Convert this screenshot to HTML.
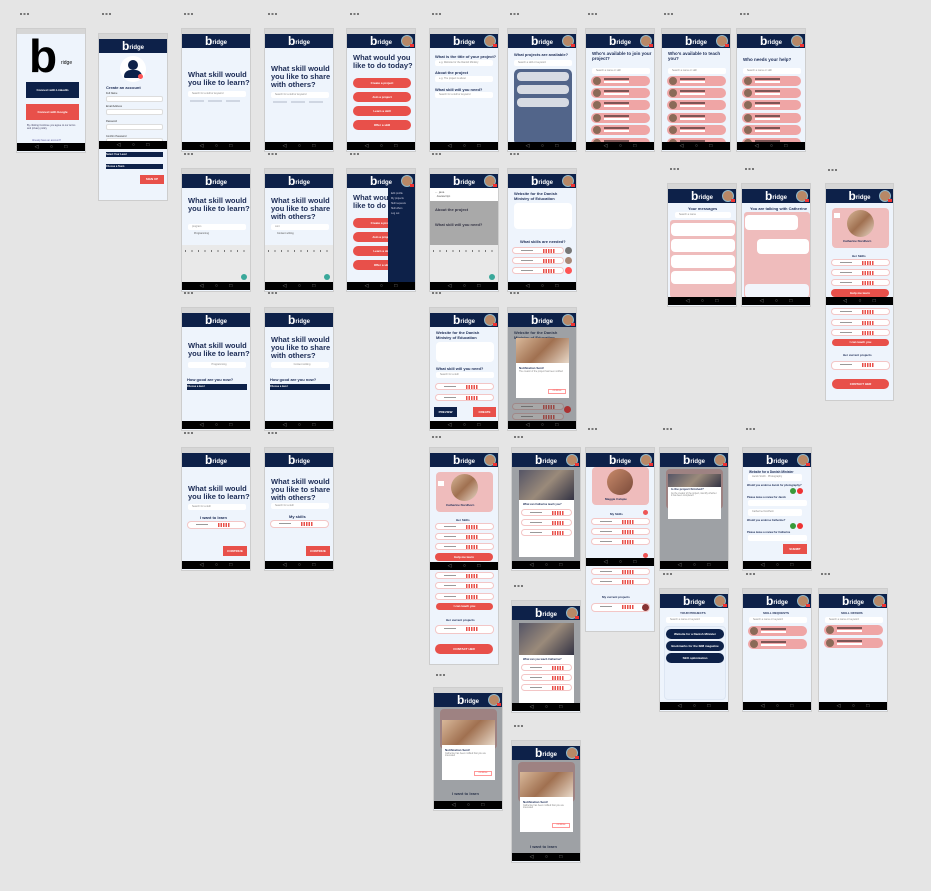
<!DOCTYPE html>
<html><head><meta charset="utf-8">
<style>
*{box-sizing:border-box;margin:0;padding:0}
body{width:931px;height:891px;background:#e5e5e5;position:relative;overflow:hidden;font-family:"Liberation Sans",sans-serif}
.f{position:absolute;background:#eef4fc;border:1px solid #cdcdcd;overflow:hidden;width:70px;height:124px}
.sb{height:5px;background:#d6d6d6}
.hd{height:14px;background:#0d2149;position:relative;color:#fff;font-weight:bold;font-size:6px;text-align:center;line-height:14px}
.hd b{font-size:12px;vertical-align:-1px}
.av{position:absolute;right:2px;top:1px;width:12px;height:12px;border-radius:50%;background:#b88866;border:1px solid #8fb7c9}
.av:after{content:"";position:absolute;right:-2px;bottom:-1px;width:4px;height:3px;background:#e33}
.nv{position:absolute;left:0;right:0;bottom:1px;height:8px;background:#000;color:#888;font-size:5px;line-height:8px;text-align:center;word-spacing:10px}
.lb{position:absolute;width:9px;height:2px;background:repeating-linear-gradient(90deg,#777 0 2px,transparent 2px 3.5px)}
.a{position:absolute}
.q{color:#1b2b55;font-weight:bold;font-size:7.5px;line-height:8px}
.s{color:#1b2b55;font-weight:bold;font-size:4px}
.in{position:absolute;background:#fff;height:6px;border-radius:2px;font-size:2.5px;color:#888;line-height:6px;padding-left:4px}
.rb{position:absolute;background:#e8504a;color:#fff;font-size:3px;font-weight:bold;text-align:center;border-radius:5px;height:8px;line-height:8px}
.nb{position:absolute;background:#0d2149;color:#fff;font-size:3px;font-weight:bold;text-align:center;height:7px;line-height:7px}
.pk{position:absolute;left:5px;width:59px;height:10px;background:#efa5a5;border-radius:5px}
.pk:before{content:"";position:absolute;left:2px;top:1px;width:8px;height:8px;border-radius:50%;background:#8a6a58}
.pk:after{content:"";position:absolute;left:13px;top:2px;width:25px;height:2px;background:#7d5555;box-shadow:0 3px 0 #fff}
.sk{position:absolute;left:5px;width:59px;height:7px;background:#fff;border:1px solid #f3c6c6;border-radius:4px}
.sk:after{content:"";position:absolute;left:30px;top:1px;width:12px;height:4px;background:repeating-linear-gradient(90deg,#e8504a 0 1.5px,#fff 1.5px 2.5px)}
.sk:before{content:"";position:absolute;left:8px;top:2px;width:12px;height:1px;background:#999}
.ov{position:absolute;left:0;right:0;top:19px;bottom:9px;background:rgba(60,60,60,.45)}
.md{position:absolute;background:#fff}
.ph{position:absolute;background:linear-gradient(135deg,#d8b89a,#a07050 50%,#e8d8c8)}
.dk{position:absolute;background:linear-gradient(135deg,#556,#9a8a7a 50%,#334)}
.kb{position:absolute;left:0;right:0;bottom:9px;height:37px;background:#e9e9e9;background-image:repeating-linear-gradient(90deg,transparent 0 3px,#777 3px 4px,transparent 4px 6.5px);background-size:100% 2px;background-repeat:repeat-x;background-position:0 5px}
</style></head><body>

<!-- labels -->
<div class="lb" style="left:20px;top:13px"></div><div class="lb" style="left:102px;top:13px"></div><div class="lb" style="left:184px;top:13px"></div><div class="lb" style="left:268px;top:13px"></div><div class="lb" style="left:350px;top:13px"></div><div class="lb" style="left:432px;top:13px"></div><div class="lb" style="left:510px;top:13px"></div><div class="lb" style="left:588px;top:13px"></div><div class="lb" style="left:664px;top:13px"></div><div class="lb" style="left:740px;top:13px"></div>
<div class="lb" style="left:184px;top:153px"></div><div class="lb" style="left:268px;top:153px"></div><div class="lb" style="left:350px;top:153px"></div><div class="lb" style="left:432px;top:153px"></div><div class="lb" style="left:510px;top:153px"></div>
<div class="lb" style="left:670px;top:168px"></div><div class="lb" style="left:745px;top:168px"></div><div class="lb" style="left:828px;top:169px"></div>
<div class="lb" style="left:184px;top:292px"></div><div class="lb" style="left:268px;top:292px"></div><div class="lb" style="left:432px;top:292px"></div><div class="lb" style="left:510px;top:292px"></div>
<div class="lb" style="left:184px;top:432px"></div><div class="lb" style="left:268px;top:432px"></div><div class="lb" style="left:432px;top:436px"></div><div class="lb" style="left:514px;top:436px"></div><div class="lb" style="left:588px;top:428px"></div><div class="lb" style="left:663px;top:428px"></div><div class="lb" style="left:746px;top:428px"></div>
<div class="lb" style="left:663px;top:573px"></div><div class="lb" style="left:746px;top:573px"></div><div class="lb" style="left:821px;top:573px"></div><div class="lb" style="left:514px;top:585px"></div><div class="lb" style="left:436px;top:674px"></div><div class="lb" style="left:514px;top:725px"></div>

<!-- A1 login -->
<div class="f" style="left:16px;top:28px;height:125px">
 <div class="sb"></div>
 <div class="a" style="left:12px;top:0px;font-size:46px;font-weight:bold;color:#000">b</div>
 <div class="a" style="left:44px;top:31px;font-size:5px;color:#000">ridge</div>
 <div class="nb" style="left:9px;top:53px;width:53px;height:16px;line-height:16px">Connect with LinkedIn</div>
 <div class="a" style="left:9px;top:75px;width:53px;height:16px;background:#e8504a;color:#fff;font-size:3px;text-align:center;line-height:16px;font-weight:bold">Connect with Google</div>
 <div class="a" style="left:10px;top:95px;font-size:2.5px;color:#446;width:50px">By clicking Continue you agree to our terms and privacy policy</div>
 <div class="a" style="left:15px;top:110px;font-size:2.5px;color:#66a">Already have an account?</div>
 <div class="nv">◁ ○ □</div>
</div>

<!-- A2 create -->
<div class="f" style="left:98px;top:33px;height:168px">
 <div class="sb"></div><div class="hd"><b>b</b>ridge</div>
 <div class="a" style="left:21px;top:22px;width:26px;height:26px;border-radius:50%;background:#fff"></div>
 <div class="a" style="left:29px;top:26px;width:10px;height:10px;border-radius:50%;background:#0d2149"></div>
 <div class="a" style="left:25px;top:36px;width:18px;height:8px;border-radius:9px 9px 2px 2px;background:#0d2149"></div>
 <div class="a" style="left:39px;top:40px;width:5px;height:5px;border-radius:50%;background:#f55"></div>
 <div class="a s" style="left:7px;top:51px">Create an account</div>
 <div class="a" style="left:7px;top:58px;font-size:2.5px;color:#333">Full Name</div><div class="in" style="left:7px;top:62px;width:57px;border:1px solid #ddd"></div>
 <div class="a" style="left:7px;top:71px;font-size:2.5px;color:#333">Email Address</div><div class="in" style="left:7px;top:75px;width:57px;border:1px solid #ddd"></div>
 <div class="a" style="left:7px;top:86px;font-size:2.5px;color:#333">Password</div><div class="in" style="left:7px;top:90px;width:57px;border:1px solid #ddd"></div>
 <div class="a" style="left:7px;top:101px;font-size:2.5px;color:#333">Confirm Password</div><div class="in" style="left:7px;top:104px;width:57px;border:1px solid #ddd"></div>
 <div class="nv" style="bottom:auto;top:107px">◁ ○ □</div>
 <div class="nb" style="left:7px;top:118px;width:57px;height:5px;line-height:5px;text-align:left;font-size:2.5px">Select Your Level</div>
 <div class="nb" style="left:7px;top:130px;width:57px;height:5px;line-height:5px;text-align:left;font-size:2.5px">Choose a Team</div>
 <div class="rb" style="left:41px;top:141px;width:24px;height:9px;border-radius:0">SIGN UP</div>
</div>

<!-- A3 -->
<div class="f" style="left:181px;top:28px"><div class="sb"></div><div class="hd"><b>b</b>ridge</div>
 <div class="a q" style="left:6px;top:42px">What skill would you like to learn?</div>
 <div class="in" style="left:6px;top:62px;width:58px">Search for a skill or keyword</div>
 <div class="a" style="left:8px;top:71px;width:54px;height:2px;background:repeating-linear-gradient(90deg,#cfd6e2 0 14px,transparent 14px 18px)"></div>
 <div class="nv">◁ ○ □</div></div>
<!-- A4 -->
<div class="f" style="left:264px;top:28px"><div class="sb"></div><div class="hd"><b>b</b>ridge</div>
 <div class="a q" style="left:6px;top:36px">What skill would you like to share with others?</div>
 <div class="in" style="left:6px;top:63px;width:58px">Search for a skill or keyword</div>
 <div class="a" style="left:8px;top:72px;width:54px;height:2px;background:repeating-linear-gradient(90deg,#cfd6e2 0 14px,transparent 14px 18px)"></div>
 <div class="nv">◁ ○ □</div></div>
<!-- A5 -->
<div class="f" style="left:346px;top:28px"><div class="sb"></div><div class="hd"><b>b</b>ridge<span class="av"></span></div>
 <div class="a q" style="left:6px;top:25px">What would you like to do today?</div>
 <div class="rb" style="left:6px;top:49px;width:58px;height:10px;line-height:10px">Create a project</div>
 <div class="rb" style="left:6px;top:63px;width:58px;height:10px;line-height:10px">Join a project</div>
 <div class="rb" style="left:6px;top:77px;width:58px;height:10px;line-height:10px">Learn a skill</div>
 <div class="rb" style="left:6px;top:91px;width:58px;height:10px;line-height:10px">Offer a skill</div>
 <div class="nv">◁ ○ □</div></div>
<!-- A6 -->
<div class="f" style="left:429px;top:28px"><div class="sb"></div><div class="hd"><b>b</b>ridge<span class="av"></span></div>
 <div class="a s" style="left:5px;top:25px">What is the title of your project?</div><div class="in" style="left:5px;top:31px;width:58px">e.g. Website for the Danish Ministry</div>
 <div class="a s" style="left:5px;top:41px">About the project</div><div class="in" style="left:5px;top:47px;width:58px">e.g. The project is about</div>
 <div class="a s" style="left:5px;top:58px">What skill will you need?</div><div class="in" style="left:5px;top:63px;width:58px">Search for a skill or keyword</div>
 <div class="nv">◁ ○ □</div></div>
<!-- A7 -->
<div class="f" style="left:507px;top:28px"><div class="sb"></div><div class="hd"><b>b</b>ridge<span class="av"></span></div>
 <div class="a s" style="left:6px;top:23px">What projects are available?</div>
 <div class="in" style="left:6px;top:31px;width:58px">Search a skill or keyword</div>
 <div class="a" style="left:6px;top:40px;width:58px;height:76px;background:#52658a;border-radius:5px"></div>
 <div class="a" style="left:9px;top:43px;width:52px;height:9px;background:#d7dbe3;border-radius:4px"></div>
 <div class="a" style="left:9px;top:56px;width:52px;height:9px;background:#d7dbe3;border-radius:4px"></div>
 <div class="a" style="left:9px;top:69px;width:52px;height:9px;background:#d7dbe3;border-radius:4px"></div>
 <div class="nv">◁ ○ □</div></div>
<!-- A8 A9 A10 lists -->
<div class="f" style="left:585px;top:28px"><div class="sb"></div><div class="hd"><b>b</b>ridge<span class="av"></span></div>
 <div class="a s" style="left:6px;top:22px;font-size:4.5px;width:62px">Who's available to join your project?</div>
 <div class="in" style="left:6px;top:39px;width:58px">Search a name or skill</div>
 <div class="pk" style="top:47px"></div><div class="pk" style="top:59px"></div><div class="pk" style="top:71px"></div><div class="pk" style="top:84px"></div><div class="pk" style="top:96px"></div><div class="pk" style="top:109px"></div>
 <div class="nv">◁ ○ □</div></div>
<div class="f" style="left:661px;top:28px"><div class="sb"></div><div class="hd"><b>b</b>ridge<span class="av"></span></div>
 <div class="a s" style="left:6px;top:22px;font-size:4.5px;width:62px">Who's available to teach you?</div>
 <div class="in" style="left:6px;top:39px;width:58px">Search a name or skill</div>
 <div class="pk" style="top:47px"></div><div class="pk" style="top:59px"></div><div class="pk" style="top:71px"></div><div class="pk" style="top:84px"></div><div class="pk" style="top:96px"></div><div class="pk" style="top:109px"></div>
 <div class="nv">◁ ○ □</div></div>
<div class="f" style="left:736px;top:28px"><div class="sb"></div><div class="hd"><b>b</b>ridge<span class="av"></span></div>
 <div class="a s" style="left:6px;top:28px;font-size:4.5px;width:62px">Who needs your help?</div>
 <div class="in" style="left:6px;top:39px;width:58px">Search a name or skill</div>
 <div class="pk" style="top:47px"></div><div class="pk" style="top:59px"></div><div class="pk" style="top:71px"></div><div class="pk" style="top:84px"></div><div class="pk" style="top:96px"></div><div class="pk" style="top:109px"></div>
 <div class="nv">◁ ○ □</div></div>

<!-- Row2 -->
<div class="f" style="left:181px;top:168px"><div class="sb"></div><div class="hd"><b>b</b>ridge</div>
 <div class="a q" style="left:6px;top:28px">What skill would you like to learn?</div>
 <div class="in" style="left:6px;top:55px;width:58px">program</div><div class="a" style="left:12px;top:63px;font-size:2.5px;color:#555">Programming</div>
 <div class="kb"></div><div class="a" style="right:3px;bottom:11px;width:6px;height:6px;border-radius:50%;background:#3aa89a"></div>
 <div class="nv">◁ ○ □</div></div>
<div class="f" style="left:264px;top:168px"><div class="sb"></div><div class="hd"><b>b</b>ridge</div>
 <div class="a q" style="left:6px;top:28px">What skill would you like to share with others?</div>
 <div class="in" style="left:6px;top:55px;width:58px">cont</div><div class="a" style="left:12px;top:63px;font-size:2.5px;color:#555">Content writing</div>
 <div class="kb"></div><div class="a" style="right:3px;bottom:11px;width:6px;height:6px;border-radius:50%;background:#3aa89a"></div>
 <div class="nv">◁ ○ □</div></div>
<div class="f" style="left:346px;top:168px"><div class="sb"></div><div class="hd"><b>b</b>ridge<span class="av"></span></div>
 <div class="a q" style="left:6px;top:25px">What would you like to do</div>
 <div class="rb" style="left:6px;top:49px;width:58px;height:10px;line-height:10px">Create a project</div>
 <div class="rb" style="left:6px;top:63px;width:58px;height:10px;line-height:10px">Join a project</div>
 <div class="rb" style="left:6px;top:77px;width:58px;height:10px;line-height:10px">Learn a skill</div>
 <div class="rb" style="left:6px;top:91px;width:58px;height:10px;line-height:10px">Offer a skill</div>
 <div class="a" style="left:41px;top:19px;width:29px;height:96px;background:#0d2149;color:#ccd;font-size:2.5px;padding:3px;line-height:5px">Edit profile<br>My projects<br>Skill requests<br>Skill offers<br>Log out</div>
 <div class="nv">◁ ○ □</div></div>
<div class="f" style="left:429px;top:168px"><div class="sb"></div><div class="hd"><b>b</b>ridge<span class="av"></span></div>
 <div class="a" style="left:0;top:19px;width:70px;height:60px;background:#a9a9a9"></div>
 <div class="a" style="left:0;top:19px;width:70px;height:13px;background:#fff;font-size:3px;color:#555;padding:2px 5px">← java<br>&nbsp; Javascript</div>
 <div class="a s" style="left:5px;top:38px;color:#334">About the project</div>
 <div class="a s" style="left:5px;top:53px;color:#334">What skill will you need?</div>
 <div class="kb" style="background-color:#e9e9e9"></div><div class="a" style="right:3px;bottom:11px;width:6px;height:6px;border-radius:50%;background:#3aa89a"></div>
 <div class="nv">◁ ○ □</div></div>
<div class="f" style="left:507px;top:168px"><div class="sb"></div><div class="hd"><b>b</b>ridge<span class="av"></span></div>
 <div class="a s" style="left:6px;top:22px;width:58px">Website for the Danish Ministry of Education</div>
 <div class="a" style="left:6px;top:34px;width:58px;height:26px;background:#fff;border-radius:4px"></div>
 <div class="a s" style="left:12px;top:70px">What skills are needed?</div>
 <div class="sk" style="left:4px;width:52px;top:78px"></div><div class="sk" style="left:4px;width:52px;top:88px"></div><div class="sk" style="left:4px;width:52px;top:98px"></div>
 <div class="a" style="left:57px;top:78px;width:7px;height:7px;border-radius:50%;background:#777"></div>
 <div class="a" style="left:57px;top:88px;width:7px;height:7px;border-radius:50%;background:#a87"></div>
 <div class="a" style="left:57px;top:98px;width:7px;height:7px;border-radius:50%;background:#f55"></div>
 <div class="nv">◁ ○ □</div></div>

<!-- messages / chat / profile -->
<div class="f" style="left:667px;top:183px"><div class="sb"></div><div class="hd"><b>b</b>ridge<span class="av"></span></div>
 <div class="a s" style="left:20px;top:22px">Your messages</div>
 <div class="in" style="left:7px;top:28px;width:56px">Search a name</div>
 <div class="a" style="left:2px;top:36px;width:66px;height:78px;background:#efbcbc;border-radius:3px"></div>
 <div class="a" style="left:3px;top:39px;width:64px;height:13px;background:#fff;border-radius:4px"></div>
 <div class="a" style="left:3px;top:55px;width:64px;height:13px;background:#fff;border-radius:4px"></div>
 <div class="a" style="left:3px;top:71px;width:64px;height:13px;background:#fff;border-radius:4px"></div>
 <div class="a" style="left:3px;top:87px;width:64px;height:13px;background:#fff;border-radius:4px"></div>
 <div class="nv">◁ ○ □</div></div>
<div class="f" style="left:741px;top:183px"><div class="sb"></div><div class="hd"><b>b</b>ridge<span class="av"></span></div>
 <div class="a s" style="left:8px;top:22px">You are talking with Catherine</div>
 <div class="a" style="left:2px;top:28px;width:66px;height:86px;background:#efbcbc;border-radius:3px"></div>
 <div class="a" style="left:3px;top:31px;width:53px;height:15px;background:#fff;border-radius:4px"></div>
 <div class="a" style="left:15px;top:55px;width:52px;height:15px;background:#fff;border-radius:4px"></div>
 <div class="a" style="left:3px;top:100px;width:64px;height:14px;background:#f2f5fb;border-radius:4px"></div>
 <div class="nv">◁ ○ □</div></div>
<div class="f" style="left:825px;top:183px;width:69px;height:218px"><div class="sb"></div><div class="hd"><b>b</b>ridge<span class="av"></span></div>
 <div class="a" style="left:6px;top:24px;width:57px;height:40px;background:#efbcbc;border-radius:4px"></div>
 <div class="ph" style="left:21px;top:26px;width:27px;height:27px;border-radius:50%"></div>
 <div class="a" style="left:8px;top:29px;width:6px;height:5px;background:#fff"></div>
 <div class="a s" style="left:17px;top:55px;font-size:3px">Catherine Nordhorn</div>
 <div class="a s" style="left:26px;top:70px;font-size:3px">Her Skills</div>
 <div class="sk" style="top:75px"></div><div class="sk" style="top:85px"></div><div class="sk" style="top:95px"></div>
 <div class="rb" style="left:5px;top:105px;width:58px;height:8px">Help me learn</div>
 <div class="nv" style="bottom:auto;top:113px">◁ ○ □</div>
 <div class="sk" style="top:124px"></div><div class="sk" style="top:135px"></div><div class="sk" style="top:145px"></div>
 <div class="rb" style="left:6px;top:155px;width:57px;height:7px;line-height:7px">I can teach you</div>
 <div class="a s" style="left:17px;top:169px;font-size:3px">Her current projects</div>
 <div class="sk" style="top:177px;height:9px"></div>
 <div class="rb" style="left:6px;top:195px;width:57px;height:10px;line-height:10px">CONTACT HER</div>
</div>

<!-- Row3 -->
<div class="f" style="left:181px;top:307px"><div class="sb"></div><div class="hd"><b>b</b>ridge</div>
 <div class="a q" style="left:6px;top:34px">What skill would you like to learn?</div>
 <div class="in" style="left:6px;top:54px;width:58px;text-align:center">Programming</div>
 <div class="a s" style="left:5px;top:69px">How good are you now?</div>
 <div class="nb" style="left:5px;top:76px;width:60px;height:6px;line-height:6px;text-align:left;font-size:2.5px">Choose a level</div>
 <div class="nv">◁ ○ □</div></div>
<div class="f" style="left:264px;top:307px"><div class="sb"></div><div class="hd"><b>b</b>ridge</div>
 <div class="a q" style="left:6px;top:28px">What skill would you like to share with others?</div>
 <div class="in" style="left:6px;top:54px;width:58px;text-align:center">Content writing</div>
 <div class="a s" style="left:5px;top:69px">How good are you now?</div>
 <div class="nb" style="left:5px;top:76px;width:60px;height:6px;line-height:6px;text-align:left;font-size:2.5px">Choose a level</div>
 <div class="nv">◁ ○ □</div></div>
<div class="f" style="left:429px;top:307px"><div class="sb"></div><div class="hd"><b>b</b>ridge<span class="av"></span></div>
 <div class="a s" style="left:6px;top:22px;width:58px">Website for the Danish Ministry of Education</div>
 <div class="a" style="left:6px;top:34px;width:58px;height:20px;background:#fff;border-radius:4px"></div>
 <div class="a s" style="left:6px;top:58px">What skill will you need?</div>
 <div class="in" style="left:6px;top:64px;width:58px">Search for a skill</div>
 <div class="sk" style="top:75px"></div><div class="sk" style="top:86px"></div>
 <div class="nb" style="left:4px;top:99px;width:23px;height:10px;line-height:10px">PREVIEW</div>
 <div class="rb" style="left:43px;top:99px;width:23px;height:10px;line-height:10px;border-radius:0">CREATE</div>
 <div class="nv">◁ ○ □</div></div>
<div class="f" style="left:507px;top:307px"><div class="sb"></div><div class="hd"><b>b</b>ridge<span class="av"></span></div>
 <div class="a s" style="left:6px;top:22px;width:58px">Website for the Danish Ministry of Education</div>
 <div class="sk" style="top:95px;left:4px;width:52px"></div><div class="sk" style="top:105px;left:4px;width:52px"></div>
 <div class="ov"></div>
 <div class="md" style="left:8px;top:30px;width:53px;height:60px"><div class="ph" style="left:0;top:0;width:53px;height:25px"></div>
  <div class="a s" style="left:3px;top:28px;font-size:3px">Notification Sent!</div>
  <div class="a" style="left:3px;top:33px;width:46px;font-size:2.3px;color:#888">The creator of the project has been notified</div>
  <div class="a" style="left:32px;top:51px;width:18px;height:5px;border:1px solid #f99;font-size:2.3px;color:#e55;text-align:center">continue</div></div>
 <div class="a" style="left:56px;top:98px;width:7px;height:7px;border-radius:50%;background:#a33"></div>
 <div class="nv">◁ ○ □</div></div>

<!-- Row4 -->
<div class="f" style="left:181px;top:447px"><div class="sb"></div><div class="hd"><b>b</b>ridge</div>
 <div class="a q" style="left:6px;top:37px">What skill would you like to learn?</div>
 <div class="in" style="left:6px;top:56px;width:58px">Search for a skill</div>
 <div class="a s" style="left:18px;top:67px">I want to learn</div>
 <div class="sk" style="top:73px;height:8px"></div>
 <div class="rb" style="left:41px;top:98px;width:24px;height:10px;line-height:10px;border-radius:0">CONTINUE</div>
 <div class="nv">◁ ○ □</div></div>
<div class="f" style="left:264px;top:447px"><div class="sb"></div><div class="hd"><b>b</b>ridge</div>
 <div class="a q" style="left:6px;top:30px">What skill would you like to share with others?</div>
 <div class="in" style="left:6px;top:55px;width:58px">Search for a skill</div>
 <div class="a s" style="left:24px;top:66px">My skills</div>
 <div class="sk" style="top:72px;height:8px"></div>
 <div class="rb" style="left:41px;top:98px;width:24px;height:10px;line-height:10px;border-radius:0">CONTINUE</div>
 <div class="nv">◁ ○ □</div></div>
<div class="f" style="left:429px;top:447px;height:218px"><div class="sb"></div><div class="hd"><b>b</b>ridge<span class="av"></span></div>
 <div class="a" style="left:6px;top:24px;width:57px;height:40px;background:#efbcbc;border-radius:4px"></div>
 <div class="ph" style="left:21px;top:26px;width:27px;height:27px;border-radius:50%"></div>
 <div class="a" style="left:8px;top:33px;width:6px;height:5px;background:#fff"></div>
 <div class="a s" style="left:16px;top:55px;font-size:3px">Catherine Nordhorn</div>
 <div class="a s" style="left:26px;top:70px;font-size:3px">Her Skills</div>
 <div class="sk" style="top:75px"></div><div class="sk" style="top:85px"></div><div class="sk" style="top:95px"></div>
 <div class="rb" style="left:5px;top:105px;width:58px;height:8px">Help me learn</div>
 <div class="nv" style="bottom:auto;top:114px">◁ ○ □</div>
 <div class="sk" style="top:124px"></div><div class="sk" style="top:134px"></div><div class="sk" style="top:145px"></div>
 <div class="rb" style="left:6px;top:155px;width:57px;height:7px;line-height:7px">I can teach you</div>
 <div class="a s" style="left:16px;top:170px;font-size:3px">Her current projects</div>
 <div class="sk" style="top:177px;height:9px"></div>
 <div class="rb" style="left:5px;top:196px;width:58px;height:10px;line-height:10px">CONTACT HER</div>
</div>
<div class="f" style="left:511px;top:447px"><div class="sb"></div><div class="hd"><b>b</b>ridge<span class="av"></span></div>
 <div class="ov"></div>
 <div class="md" style="left:7px;top:22px;width:55px;height:87px"><div class="dk" style="left:0;top:0;width:55px;height:30px"></div>
  <div class="a s" style="left:4px;top:33px;font-size:2.6px">What can Catherine teach you?</div>
  <div class="sk" style="left:2px;width:51px;top:39px"></div><div class="sk" style="left:2px;width:51px;top:49px"></div><div class="sk" style="left:2px;width:51px;top:59px"></div></div>
 <div class="nv">◁ ○ □</div></div>
<div class="f" style="left:585px;top:447px;height:185px"><div class="sb"></div><div class="hd"><b>b</b>ridge<span class="av"></span></div>
 <div class="a" style="left:6px;top:19px;width:57px;height:38px;background:#efbcbc;border-radius:4px"></div>
 <div class="ph" style="left:21px;top:21px;width:26px;height:26px;border-radius:50%;background:linear-gradient(135deg,#c88a6a,#7a4a3a)"></div>
 <div class="a s" style="left:19px;top:49px;font-size:3px">Maggie Calspie</div>
 <div class="a s" style="left:24px;top:64px;font-size:3px">My Skills</div>
 <div class="a" style="left:57px;top:62px;width:5px;height:5px;border-radius:50%;background:#e55"></div>
 <div class="sk" style="top:70px"></div><div class="sk" style="top:80px"></div><div class="sk" style="top:90px"></div>
 <div class="a" style="left:57px;top:105px;width:5px;height:5px;border-radius:50%;background:#e55"></div>
 <div class="nv" style="bottom:auto;top:110px">◁ ○ □</div>
 <div class="sk" style="top:120px"></div><div class="sk" style="top:130px"></div>
 <div class="a s" style="left:16px;top:147px;font-size:3px">My current projects</div>
 <div class="sk" style="top:155px;height:9px"></div><div class="a" style="left:56px;top:156px;width:7px;height:7px;border-radius:50%;background:#833"></div>
</div>
<div class="f" style="left:659px;top:447px"><div class="sb"></div><div class="hd"><b>b</b>ridge<span class="av"></span></div>
 <div class="a" style="left:6px;top:21px;width:57px;height:40px;background:#efbcbc;border-radius:4px"></div>
 <div class="ov"></div>
 <div class="md" style="left:8px;top:35px;width:53px;height:36px"><div class="a s" style="left:3px;top:4px;font-size:3px">Is the project finished?</div><div class="a" style="left:3px;top:10px;width:46px;font-size:2.3px;color:#888">As the creator of the project, identify whether it has been completed</div></div>
 <div class="dk" style="left:8px;top:26px;width:53px;height:13px"></div>
 <div class="nv">◁ ○ □</div></div>
<div class="f" style="left:742px;top:447px"><div class="sb"></div><div class="hd"><b>b</b>ridge<span class="av"></span></div>
 <div class="a s" style="left:6px;top:22px;font-size:3.2px">Website for a Danish Minister</div>
 <div class="in" style="left:5px;top:26px;width:54px;height:7px">Jacob Smith · Photography</div>
 <div class="a s" style="left:4px;top:36px;font-size:2.6px">Would you endorse Jacob for photography?</div>
 <div class="a" style="left:47px;top:40px;width:6px;height:6px;border-radius:50%;background:#3a9a3a"></div><div class="a" style="left:54px;top:40px;width:6px;height:6px;border-radius:50%;background:#e33"></div>
 <div class="a s" style="left:4px;top:48px;font-size:2.6px">Please leave a review for Jacob</div>
 <div class="in" style="left:5px;top:52px;width:59px"></div>
 <div class="in" style="left:5px;top:61px;width:54px;height:7px">Catherine Nordhorn</div>
 <div class="a s" style="left:4px;top:71px;font-size:2.6px">Would you endorse Catherine?</div>
 <div class="a" style="left:47px;top:75px;width:6px;height:6px;border-radius:50%;background:#3a9a3a"></div><div class="a" style="left:54px;top:75px;width:6px;height:6px;border-radius:50%;background:#e33"></div>
 <div class="a s" style="left:4px;top:83px;font-size:2.6px">Please leave a review for Catherine</div>
 <div class="in" style="left:5px;top:87px;width:59px"></div>
 <div class="rb" style="left:40px;top:96px;width:24px;height:10px;line-height:10px;border-radius:0">SUBMIT</div>
 <div class="nv">◁ ○ □</div></div>

<!-- Row5 -->
<div class="f" style="left:659px;top:588px"><div class="sb"></div><div class="hd"><b>b</b>ridge<span class="av"></span></div>
 <div class="a s" style="left:20px;top:22px;font-size:3px">YOUR PROJECTS</div>
 <div class="in" style="left:6px;top:28px;width:58px">Search a name or keyword</div>
 <div class="a" style="left:4px;top:37px;width:62px;height:74px;background:#eaf1fb;border:1px solid #dde6f3;border-radius:4px"></div>
 <div class="nb" style="left:6px;top:40px;width:58px;height:10px;line-height:10px;border-radius:5px">Website for a Danish Minister</div>
 <div class="nb" style="left:6px;top:52px;width:58px;height:10px;line-height:10px;border-radius:5px">Bookmarks for the IBM magazine</div>
 <div class="nb" style="left:6px;top:64px;width:58px;height:10px;line-height:10px;border-radius:5px">SEO optimization</div>
 <div class="nv">◁ ○ □</div></div>
<div class="f" style="left:742px;top:588px"><div class="sb"></div><div class="hd"><b>b</b>ridge<span class="av"></span></div>
 <div class="a s" style="left:20px;top:22px;font-size:3px">SKILL REQUESTS</div>
 <div class="in" style="left:6px;top:28px;width:58px">Search a name or keyword</div>
 <div class="pk" style="top:37px"></div><div class="pk" style="top:50px"></div>
 <div class="nv">◁ ○ □</div></div>
<div class="f" style="left:818px;top:588px"><div class="sb"></div><div class="hd"><b>b</b>ridge<span class="av"></span></div>
 <div class="a s" style="left:22px;top:22px;font-size:3px">SKILL OFFERS</div>
 <div class="in" style="left:6px;top:28px;width:58px">Search a name or keyword</div>
 <div class="pk" style="top:36px"></div><div class="pk" style="top:49px"></div>
 <div class="nv">◁ ○ □</div></div>
<div class="f" style="left:511px;top:600px;height:113px"><div class="sb"></div><div class="hd"><b>b</b>ridge<span class="av"></span></div>
 <div class="ov"></div>
 <div class="md" style="left:7px;top:22px;width:55px;height:85px"><div class="dk" style="left:0;top:0;width:55px;height:32px"></div>
  <div class="a s" style="left:4px;top:35px;font-size:2.6px">What can you teach Catherine?</div>
  <div class="sk" style="left:2px;width:51px;top:41px"></div><div class="sk" style="left:2px;width:51px;top:51px"></div><div class="sk" style="left:2px;width:51px;top:61px"></div></div>
 <div class="nv">◁ ○ □</div></div>
<div class="f" style="left:433px;top:687px"><div class="sb"></div><div class="hd"><b>b</b>ridge<span class="av"></span></div>
 <div class="a" style="left:6px;top:21px;width:57px;height:40px;background:#efbcbc;border-radius:4px"></div>
 <div class="a s" style="left:18px;top:103px">I want to learn</div>
 <div class="ov"></div>
 <div class="md" style="left:8px;top:32px;width:53px;height:60px"><div class="ph" style="left:0;top:0;width:53px;height:25px"></div>
  <div class="a s" style="left:3px;top:28px;font-size:3px">Notification Sent!</div>
  <div class="a" style="left:3px;top:33px;width:46px;font-size:2.3px;color:#888">Catherine has been notified that you are interested</div>
  <div class="a" style="left:32px;top:51px;width:18px;height:5px;border:1px solid #f99;font-size:2.3px;color:#e55;text-align:center">continue</div></div>
 <div class="nv">◁ ○ □</div></div>
<div class="f" style="left:511px;top:740px;height:123px"><div class="sb"></div><div class="hd"><b>b</b>ridge<span class="av"></span></div>
 <div class="a" style="left:6px;top:21px;width:57px;height:40px;background:#efbcbc;border-radius:4px"></div>
 <div class="a s" style="left:18px;top:103px">I want to learn</div>
 <div class="ov"></div>
 <div class="md" style="left:8px;top:31px;width:53px;height:60px"><div class="ph" style="left:0;top:0;width:53px;height:25px"></div>
  <div class="a s" style="left:3px;top:28px;font-size:3px">Notification Sent!</div>
  <div class="a" style="left:3px;top:33px;width:46px;font-size:2.3px;color:#888">Catherine has been notified that you are interested</div>
  <div class="a" style="left:32px;top:51px;width:18px;height:5px;border:1px solid #f99;font-size:2.3px;color:#e55;text-align:center">continue</div></div>
 <div class="nv">◁ ○ □</div></div>

</body></html>
